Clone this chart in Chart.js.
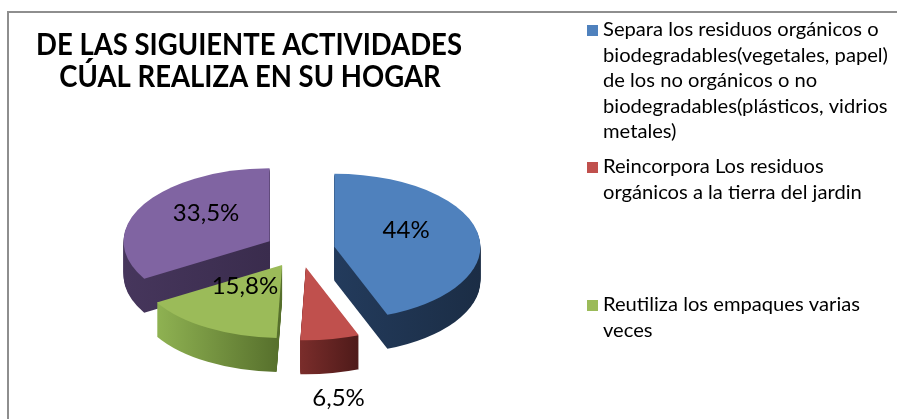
<!DOCTYPE html>
<html>
<head>
<meta charset="utf-8">
<script src="https://cdn.jsdelivr.net/npm/chart.js@4.4.0/dist/chart.umd.min.js"></script>
<style>
  html, body { margin: 0; padding: 0; background: #fff; }
</style>
</head>
<body>
<canvas id="pieChart" width="897" height="419"></canvas>
<script>
const titleLines = ['DE LAS SIGUIENTE ACTIVIDADES', 'CÚAL REALIZA EN SU HOGAR'];
const categories = [
  ['Separa los residuos orgánicos o', 'biodegradables(vegetales, papel)', 'de los no orgánicos o no', 'biodegradables(plásticos, vidrios', 'metales)'],
  ['Reincorpora Los residuos', 'orgánicos a la tierra del jardin'],
  ['Reutiliza los empaques varias', 'veces'],
  ['Otras actividades']
];
const percentages = [44, 6.5, 15.8, 33.5];
const topColors = ['#4F81BD', '#C0504D', '#9BBB59', '#8064A2'];
const sideColors = [['#233B5C', '#1B2D45'], ['#7A2D2B', '#4E1A19'], ['#8FB252', '#556E2B'], ['#46365C', '#3A2C4D']];

const TILT = 0.5;
const DEPTH = 34;
const legendTops = [36, 173, 311];

function sliceGeometry(chart) {
  const meta = chart.getDatasetMeta(0);
  return meta.data.map((arc, i) => {
    const p = arc.getProps(['x', 'y', 'startAngle', 'endAngle', 'outerRadius'], true);
    const mid = (p.startAngle + p.endAngle) / 2;
    const off = arc.options.offset || 0;
    return { i, x: p.x + Math.cos(mid) * off, y: p.y + Math.sin(mid) * off, cy: p.y,
             r: p.outerRadius, a0: p.startAngle, a1: p.endAngle, mid };
  });
}

const pie3d = {
  id: 'pie3d',
  beforeDatasetsDraw(chart) {
    const ctx = chart.ctx;
    const slices = sliceGeometry(chart);
    const path = s => {
      ctx.beginPath();
      ctx.moveTo(s.x, s.y);
      ctx.arc(s.x, s.y, s.r, s.a0, s.a1);
      ctx.closePath();
    };
    const tilt = (s, d) => {
      ctx.translate(0, s.cy + d);
      ctx.scale(1, TILT);
      ctx.translate(0, -s.cy);
    };
    slices.slice().sort((a, b) => Math.sin(a.mid) - Math.sin(b.mid)).forEach(s => {
      // horizontal extent of the slice, for the side shading
      let minX = s.x, maxX = s.x;
      for (let k = 0; k <= 24; k++) {
        const a = s.a0 + (s.a1 - s.a0) * k / 24;
        minX = Math.min(minX, s.x + Math.cos(a) * s.r);
        maxX = Math.max(maxX, s.x + Math.cos(a) * s.r);
      }
      const g = ctx.createLinearGradient(minX, 0, maxX, 0);
      g.addColorStop(0, sideColors[s.i][0]);
      g.addColorStop(1, sideColors[s.i][1]);
      for (let d = DEPTH; d >= 1; d--) {
        ctx.save();
        tilt(s, d);
        path(s);
        ctx.fillStyle = g;
        ctx.fill();
        ctx.restore();
      }
      ctx.save();
      tilt(s, 0);
      path(s);
      ctx.fillStyle = topColors[s.i];
      ctx.fill();
      ctx.restore();
    });
    return false;
  },
  afterDraw(chart) {
    const ctx = chart.ctx;
    ctx.save();
    // frame
    ctx.strokeStyle = '#8E8E8E';
    ctx.lineWidth = 2;
    ctx.strokeRect(8, 12, 1000, 1000);

    // title
    ctx.fillStyle = '#000';
    ctx.textAlign = 'center';
    ctx.textBaseline = 'alphabetic';
    ctx.font = 'bold 30px Lato';
    const tScale = 426 / ctx.measureText(titleLines[0]).width;
    [[249, 55], [250, 87]].forEach(([x, y], k) => {
      ctx.save();
      ctx.translate(x, y);
      ctx.scale(tScale, 1);
      ctx.fillText(titleLines[k], 0, 0);
      ctx.restore();
    });

    // legend (only the first three entries fit in the frame)
    ctx.textAlign = 'left';
    ctx.font = '19px Lato';
    const lScale = 285 / ctx.measureText(categories[0][1]).width;
    legendTops.forEach((top, i) => {
      ctx.fillStyle = topColors[i];
      ctx.fillRect(587, top - 11, 11, 11);
      ctx.fillStyle = '#000';
      categories[i].forEach((line, j) => {
        ctx.save();
        ctx.translate(603, top + j * 25.5);
        ctx.scale(lScale, 1);
        ctx.fillText(line, 0, 0);
        ctx.restore();
      });
    });

    // data labels
    ctx.font = '24px Lato';
    ctx.textAlign = 'center';
    ctx.textBaseline = 'middle';
    ctx.fillStyle = '#000';
    sliceGeometry(chart).forEach(s => {
      const v = percentages[s.i];
      const inside = v >= 10;
      const f = inside ? 0.5 : 1.35;
      const lx = s.x + Math.cos(s.mid) * f * s.r;
      const ly = s.cy + (s.y + Math.sin(s.mid) * f * s.r - s.cy) * TILT + (inside ? -10 : DEPTH);
      ctx.fillText(String(v).replace('.', ',') + '%', lx, ly);
    });
    ctx.restore();
  }
};

new Chart(document.getElementById('pieChart'), {
  type: 'pie',
  data: {
    labels: categories,
    datasets: [{
      data: percentages,
      backgroundColor: topColors,
      borderWidth: 0,
      offset: 35,
      radius: 146
    }]
  },
  options: {
    responsive: false,
    devicePixelRatio: 1,
    animation: false,
    events: [],
    layout: { padding: { left: 100, right: 397, top: 114, bottom: 33 } },
    plugins: {
      legend: { display: false },
      tooltip: { enabled: false }
    }
  },
  plugins: [pie3d]
});
</script>
</body>
</html>
